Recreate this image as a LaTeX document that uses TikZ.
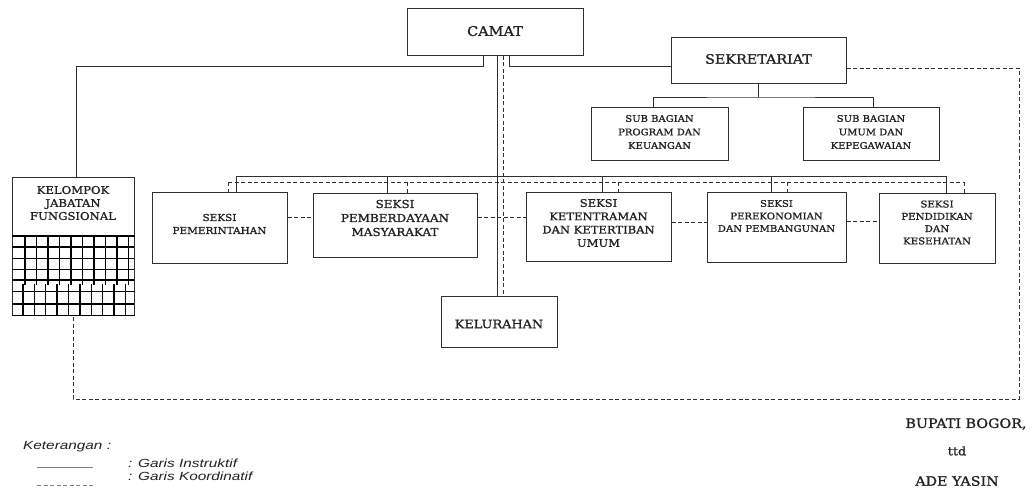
\documentclass[tikz,border=0pt]{standalone}
\usepackage{fontspec}
\setmainfont{DejaVu Serif}[FakeStretch=1.1,FakeBold=1.2]
\newfontfamily\legfont{Liberation Sans}[FakeStretch=1.3]
\usetikzlibrary{fit}
\definecolor{lc}{HTML}{303030}
\definecolor{tc}{HTML}{222222}
\newcommand{\fsz}[2]{\fontsize{#1}{#2}\selectfont}
\begin{document}
\begin{tikzpicture}[x=1pt,y=-1pt,
  box/.style={draw=lc, line width=1pt, inner sep=0pt},
  ins/.style={draw=lc, line width=1pt},
  coo/.style={draw=lc, line width=1pt, dash pattern=on 4pt off 2.5pt},
  txt/.style={text=tc, align=center, inner sep=0pt},
  gridl/.style={draw=black, line width=1.3pt}]
\useasboundingbox[fill=white] (0,0) rectangle (1034,491);

% boxes
\node[box, fit={(407,8)(583,55)}] (camat) {};
\node[box, fit={(671,37)(846,83)}] (sek) {};
\node[box, fit={(591,107)(728,160)}] (sub1) {};
\node[box, fit={(803,107)(939,160)}] (sub2) {};
\node[box, fit={(12,177)(134,315)}] (kfj) {};
\node[box, fit={(152,192)(287,263)}] (pem) {};
\node[box, fit={(313,193)(477,257)}] (pmb) {};
\node[box, fit={(526,192)(671,261)}] (ket) {};
\node[box, fit={(707,192)(846,262)}] (eko) {};
\node[box, fit={(879,193)(995,263)}] (pnd) {};
\node[box, fit={(441,296)(557,347)}] (kelu) {};

% texts
\node[txt, font=\fsz{13.2}{16}] (tcamat) at (495,31) {CAMAT};
\node[txt, font=\fsz{13}{16}] (tsek) at (758.5,59) {SEKRETARIAT};
\node[txt, font=\fsz{9.1}{13.5}] (tsub1) at (659.5,132) {SUB BAGIAN\\PROGRAM DAN\\KEUANGAN};
\node[txt, font=\fsz{9.1}{13.5}] (tsub2) at (871,132) {SUB BAGIAN\\UMUM DAN\\KEPEGAWAIAN};
\node[txt, font=\fsz{10.6}{13}] (tkfj) at (73,203) {KELOMPOK\\JABATAN\\FUNGSIONAL};
\node[txt, font=\fsz{9.5}{13}] (tpem) at (219.5,224) {SEKSI\\PEMERINTAHAN};
\node[txt, font=\fsz{10.9}{14}] (tpmb) at (395,218) {SEKSI\\PEMBERDAYAAN\\MASYARAKAT};
\node[txt, font=\fsz{10.5}{13.3}] (tket) at (598.5,223) {SEKSI\\KETENTRAMAN\\DAN KETERTIBAN\\UMUM};
\node[txt, font=\fsz{9.2}{12.5}] (teko) at (776.5,216) {SEKSI\\PEREKONOMIAN\\DAN PEMBANGUNAN};
\node[txt, font=\fsz{9.3}{12.3}] (tpnd) at (937,222.5) {SEKSI\\PENDIDIKAN\\DAN\\KESEHATAN};
\node[txt, font=\fsz{11.7}{14}] (tkelu) at (499,324) {KELURAHAN};

% grid in kelompok box
\draw[gridl, line width=1.5pt] (kfj.west |- 0,236) -- (kfj.east |- 0,236);
\foreach \yy in {247,258.3,269.3,280,291.7,304}
  \draw[gridl] (12,\yy) -- (134,\yy);
\foreach \k in {1,...,10}
  \draw[gridl] ({13.5+11.5*\k},236) -- ({13.5+11.5*\k},285);
\foreach \k in {1,...,10}
  \draw[gridl] ({11.5+11.4*\k},284) -- ({11.5+11.4*\k},315);
\draw[gridl, line width=1.8pt] (kfj.south west) -- (kfj.south east);

% coordinates for connectors
\coordinate (v0) at (483,66);
\coordinate (v1) at (497,0);
\coordinate (v2) at (503,0);
\coordinate (v3) at (509,0);
\coordinate (sb) at (758.5,97);
\coordinate (b1) at (236,176);
\coordinate (b2) at (387,176);
\coordinate (b3) at (602,176);
\coordinate (b4) at (771,176);
\coordinate (b5) at (946,176);
\coordinate (d1) at (228,182);
\coordinate (d2) at (407,182);
\coordinate (d3) at (618,182);
\coordinate (d4) at (787,182);
\coordinate (d5) at (964,182);
\coordinate (h1) at (0,217);
\coordinate (h2) at (0,217);
\coordinate (h3) at (0,222);
\coordinate (h4) at (0,221);
\coordinate (r0) at (0,68);
\coordinate (r1) at (1019,399);

% instruktif lines
\draw[ins] (v0 |- camat.south) -- (v0) -| ([xshift=3pt]kfj.north);
\draw[ins] (v1 |- camat.south) -- (v1 |- kelu.north);
\draw[ins] (v3 |- camat.south) |- ([yshift=-6pt]sek.west);
\draw[ins] (sek.south) -- (sb);
\draw[ins] ([xshift=-6pt]sub1.north) |- (sb) -| ([xshift=2pt]sub2.north);
\draw[ins] (b1) -- (b5);
\draw[ins] (b1) -- (b1 |- pem.north);
\draw[ins] (b2) -- (b2 |- pmb.north);
\draw[ins] (b3) -- (b3 |- ket.north);
\draw[ins] (b4) -- (b4 |- eko.north);
\draw[ins] (b5) -- (b5 |- pnd.north);

% koordinatif lines
\draw[coo] (v2 |- camat.south) -- (v2 |- kelu.north);
\draw[coo] (d1) -- (d5);
\draw[coo] (d1) -- (d1 |- pem.north);
\draw[coo] (d2) -- (d2 |- pmb.north);
\draw[coo] (d3) -- (d3 |- ket.north);
\draw[coo] (d4) -- (d4 |- eko.north);
\draw[coo] (d5) -- (d5 |- pnd.north);
\draw[coo] (pem.east |- h1) -- (pmb.west |- h1);
\draw[coo] (pmb.east |- h2) -- (ket.west |- h2);
\draw[coo] (ket.east |- h3) -- (eko.west |- h3);
\draw[coo] (eko.east |- h4) -- (pnd.west |- h4);
\draw[coo] (sek.east |- r0) -| (r1) -| (kfj.south);

% legend
\node[txt, anchor=west, font=\legfont\itshape\fsz{11.8}{12}] (leg) at (23,447) {Keterangan :};
\node[txt, anchor=west, font=\legfont\itshape\fsz{11.8}{12}] (legi) at (128,463) {: Garis Instruktif};
\node[txt, anchor=west, font=\legfont\itshape\fsz{11.8}{12}] (legk) at (128,476) {: Garis Koordinatif};
\coordinate (la) at (37,467);
\coordinate (lb) at (93,467);
\coordinate (lc1) at (37,485);
\coordinate (ld) at (93,485);
\draw[ins, draw=gray] (la) -- (lb);
\draw[coo, draw=gray] (lc1) -- (ld);

% signature
\node[txt, font=\fsz{13}{14}] (bup) at (966,424) {BUPATI BOGOR,};
\node[txt, font=\fsz{11.5}{14}] (ttd) at (957,451) {ttd};
\node[txt, font=\fsz{13}{14}] (ade) at (957,481) {ADE YASIN};
\end{tikzpicture}
\end{document}
